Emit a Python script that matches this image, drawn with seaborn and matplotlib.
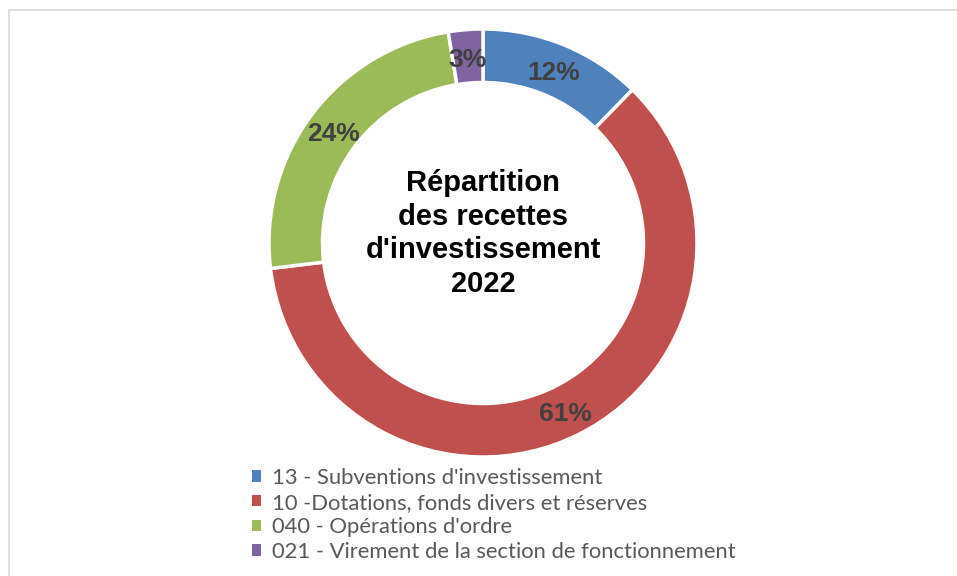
import matplotlib
matplotlib.use("Agg")
import matplotlib.pyplot as plt
from matplotlib.patches import Rectangle, Patch
import numpy as np
import seaborn as sns

categories = ["13 - Subventions d'investissement",
              "10 -Dotations, fonds divers et réserves",
              "040 - Opérations d'ordre",
              "021 - Virement de la section de fonctionnement"]
values = [12.3, 60.8, 24.3, 2.6]
pct_labels = ["12%", "61%", "24%", "3%"]
title_text = "Répartition\ndes recettes\nd'investissement\n2022"

sns.set_theme(style="white")
colors = sns.color_palette(["#4F81BD", "#C0504D", "#9BBB59", "#8064A2"])

W, H = 957, 576
fig = plt.figure(figsize=(W / 100, H / 100), dpi=100)
fig.patch.set_facecolor("white")

# chart border
fig.patches.append(Rectangle((9 / W, -0.05), 2, (H - 10) / H + 0.05,
                             transform=fig.transFigure, fill=False,
                             edgecolor="#D9D9D9", linewidth=1.2))

cx, cy, R = 483, 243, 214
ax = fig.add_axes([(cx - R) / W, (H - cy - R) / H, 2 * R / W, 2 * R / H])
wedges, _ = ax.pie(values, colors=colors, startangle=90, counterclock=False,
                   radius=1.0,
                   wedgeprops=dict(width=0.25, edgecolor="white", linewidth=2.5))
cum = np.cumsum([0] + values[:-1])
total = sum(values)
for start, v, lab in zip(cum, values, pct_labels):
    mid = 90 - 360 * (start + v / 2) / total
    r = 0.875
    ax.text(r * np.cos(np.radians(mid)), r * np.sin(np.radians(mid)) - 0.016, lab,
            ha="center", va="center", fontsize=19, fontweight="bold",
            color="#404040", family="Liberation Sans")
ax.text(0, 0.044, title_text, ha="center", va="center", fontsize=21,
        fontweight="bold", color="black", family="Liberation Sans",
        linespacing=1.25)
ax.set_xlim(-1, 1)
ax.set_ylim(-1, 1)
ax.set_aspect("equal")
ax.axis("off")

handles = [Patch(facecolor=c, edgecolor="none") for c in colors]
leg = fig.legend(handles, categories, loc="upper left",
                 bbox_to_anchor=(252 / W, 1 - 468 / H), frameon=False,
                 handlelength=0.42, handleheight=0.42, handletextpad=0.5,
                 labelspacing=0.21, borderpad=0, borderaxespad=0,
                 prop=dict(family="Lato", size=15.8))
for t in leg.get_texts():
    t.set_color("#595959")

fig.savefig("out.png", dpi=100)
